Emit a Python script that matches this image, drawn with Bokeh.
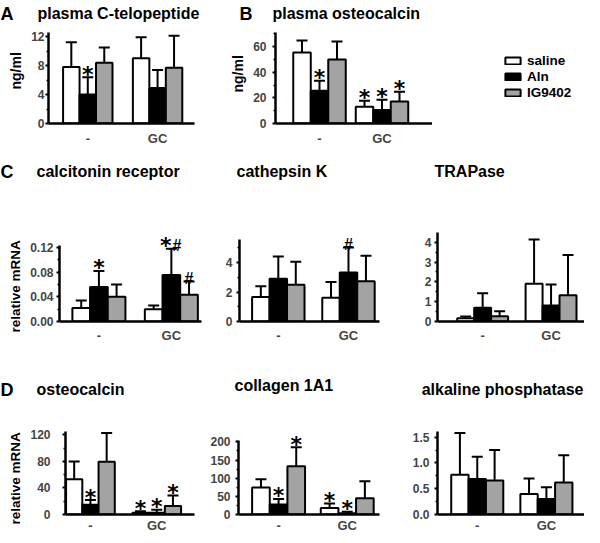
from bokeh.plotting import figure
from bokeh.layouts import column, row
from bokeh.models import (Range1d, FixedTicker, PrintfTickFormatter, Whisker, TeeHead,
                          ColumnDataSource, Label, Legend, LegendItem, Title)
from bokeh.embed import file_html
from bokeh.resources import INLINE

FONT = "Liberation Sans"

groups = ["-", "GC"]
series = ["saline", "Aln", "IG9402"]
fills = ["white", "black", "#a3a3a3"]

# A  plasma C-telopeptide (ng/ml)
ctx_saline = [7.8, 9.0]
ctx_aln = [4.0, 4.9]
ctx_ig = [8.4, 7.7]
ctx_saline_err = [11.2, 11.9]
ctx_aln_err = [6.4, 7.4]
ctx_ig_err = [10.5, 12.1]
ctx_marks = [("-", "Aln", "*")]
ctx_ticks = [0, 4, 8, 12]

# B  plasma osteocalcin (ng/ml)
poc_saline = [55.4, 13.1]
poc_aln = [25.6, 10.5]
poc_ig = [49.9, 17.2]
poc_saline_err = [64.8, 17.8]
poc_aln_err = [33.4, 18.6]
poc_ig_err = [64.0, 24.8]
poc_marks = [("-", "Aln", "*"), ("GC", "saline", "*"), ("GC", "Aln", "*"), ("GC", "IG9402", "*")]
poc_ticks = [0, 20, 40, 60]

# C  calcitonin receptor
ctr_saline = [0.022, 0.020]
ctr_aln = [0.056, 0.0755]
ctr_ig = [0.040, 0.0435]
ctr_saline_err = [0.034, 0.026]
ctr_aln_err = [0.082, 0.118]
ctr_ig_err = [0.060, 0.065]
ctr_marks = [("-", "Aln", "*"), ("GC", "Aln", "*"), ("GC", "Aln", "#"), ("GC", "IG9402", "#")]
ctr_ticks = [0, 0.04, 0.08, 0.12]

# C  cathepsin K
ctsk_saline = [1.67, 1.61]
ctsk_aln = [2.90, 3.33]
ctsk_ig = [2.50, 2.73]
ctsk_saline_err = [2.40, 2.69]
ctsk_aln_err = [4.41, 5.03]
ctsk_ig_err = [4.06, 4.47]
ctsk_marks = [("GC", "Aln", "#")]
ctsk_ticks = [0, 2, 4]

# C  TRAPase
trap_saline = [0.17, 1.90]
trap_aln = [0.69, 0.81]
trap_ig = [0.27, 1.33]
trap_saline_err = [0.25, 4.14]
trap_aln_err = [1.43, 1.87]
trap_ig_err = [0.52, 3.35]
trap_marks = []
trap_ticks = [0, 1, 2, 3, 4]

# D  osteocalcin
ocn_saline = [53.0, 2.5]
ocn_aln = [14.6, 2.5]
ocn_ig = [79.5, 13.0]
ocn_saline_err = [80.0, 5.0]
ocn_aln_err = [21.8, 7.3]
ocn_ig_err = [123.0, 28.7]
ocn_marks = [("-", "Aln", "*"), ("GC", "saline", "*"), ("GC", "Aln", "*"), ("GC", "IG9402", "*")]
ocn_ticks = [0, 40, 80, 120]

# D  collagen 1A1
col_saline = [74.2, 18.0]
col_aln = [27.4, 3.7]
col_ig = [133.0, 44.7]
col_saline_err = [97.0, 30.0]
col_aln_err = [43.0, 7.3]
col_ig_err = [185.0, 91.5]
col_marks = [("-", "Aln", "*"), ("-", "IG9402", "*"), ("GC", "saline", "*"), ("GC", "Aln", "*")]
col_ticks = [0, 50, 100, 150, 200]

# D  alkaline phosphatase
alp_saline = [0.77, 0.40]
alp_aln = [0.69, 0.30]
alp_ig = [0.66, 0.62]
alp_saline_err = [1.58, 0.70]
alp_aln_err = [1.12, 0.53]
alp_ig_err = [1.25, 1.15]
alp_marks = []
alp_ticks = [0, 0.5, 1.0, 1.5]

MARK_STYLE = {"*": dict(font="DejaVu Sans", size="22px", dy=3),
              "#": dict(font=FONT, size="16px", dy=3)}


def bar_panel(means, errs, marks, yticks, yfmt, y_top, x_start, x_end, bar_w,
              width, height, left, right, axis_top_px, bottom, headroom=0,
              ylabel=None, ylab_offset=0, ylab_size="14px",
              tick_standoff=3, cat_standoff=6):
    top_border = axis_top_px - headroom
    frame_h = height - top_border - bottom
    y_end = y_top * frame_h / (frame_h - headroom)
    p = figure(width=width, height=height, x_range=Range1d(x_start, x_end),
               y_range=Range1d(0, y_end), min_border_left=left, min_border_right=right,
               min_border_top=top_border, min_border_bottom=bottom, toolbar_location=None,
               output_backend="svg")
    p.outline_line_color = None
    p.xgrid.visible = False
    p.ygrid.visible = False
    for j, (m, e) in enumerate(zip(means, errs)):
        xs = [i + (j - 1) * bar_w for i in range(len(groups))]
        src = ColumnDataSource(dict(x=xs, top=m, err=e))
        p.add_layout(Whisker(base="x", lower="top", upper="err", source=src,
                             line_color="black", line_width=2, lower_head=None,
                             upper_head=TeeHead(size=11, line_width=2, line_color="black")))
        p.vbar(x="x", top="top", width=bar_w, source=src, fill_color=fills[j],
               line_color="black", line_width=2)
    counts = {}
    for g, s, sym in marks:
        counts[(g, s)] = counts.get((g, s), 0) + 1
    seen = {}
    for g, s, sym in marks:
        gi, si = groups.index(g), series.index(s)
        n = counts[(g, s)]
        k = seen.get((g, s), 0)
        seen[(g, s)] = k + 1
        st = MARK_STYLE[sym]
        p.add_layout(Label(x=gi + (si - 1) * bar_w, y=errs[si][gi], text=sym,
                           x_offset=(k - (n - 1) / 2) * 11, y_offset=st["dy"],
                           text_align="center", text_baseline="alphabetic",
                           text_font=st["font"], text_font_size=st["size"],
                           text_font_style="bold", text_color="black"))
    step = yticks[1] - yticks[0]
    minor = [t + step / 2 for t in yticks if t + step / 2 <= y_top]
    yax = p.yaxis[0]
    yax.ticker = FixedTicker(ticks=yticks, minor_ticks=minor)
    yax.formatter = PrintfTickFormatter(format=yfmt)
    yax.bounds = (0, y_top)
    yax.axis_line_width = 2.5
    yax.major_tick_line_width = 2
    yax.major_tick_out = 3
    yax.major_tick_in = 0
    yax.minor_tick_out = 2
    yax.minor_tick_in = 0
    yax.minor_tick_line_width = 1.5
    yax.major_label_text_font = FONT
    yax.major_label_text_font_size = "12px"
    yax.major_label_text_font_style = "bold"
    yax.major_label_standoff = tick_standoff
    if ylabel:
        p.add_layout(Title(text=ylabel, align="left", offset=ylab_offset,
                           text_font=FONT, text_font_size=ylab_size,
                           text_font_style="bold", text_color="black"), "left")
    xax = p.xaxis[0]
    xax.ticker = FixedTicker(ticks=list(range(len(groups))))
    xax.major_label_overrides = {i: g for i, g in enumerate(groups)}
    xax.axis_line_width = 2.5
    xax.major_tick_out = 0
    xax.major_tick_in = 0
    xax.minor_tick_out = 0
    xax.minor_tick_in = 0
    xax.major_label_text_font = FONT
    xax.major_label_text_font_size = "13px"
    xax.major_label_text_font_style = "bold"
    xax.major_label_standoff = cat_standoff
    return p


def strip(h, items):
    p = figure(width=584, height=h, x_range=Range1d(0, 584), y_range=Range1d(0, h),
               x_axis_type=None, y_axis_type=None, min_border=0,
               toolbar_location=None, output_backend="svg")
    p.outline_line_color = None
    for text, x, y, size, align in items:
        p.add_layout(Label(x=x, y=y, text=text, text_font=FONT, text_font_size=size,
                           text_font_style="bold", text_baseline="middle",
                           text_align=align, text_color="black"))
    return p


def legend_box(width, height, means):
    p = figure(width=width, height=height, x_range=Range1d(0, 1), y_range=Range1d(0, 1),
               x_axis_type=None, y_axis_type=None, min_border=0, min_border_left=51,
               toolbar_location=None, output_backend="svg")
    p.outline_line_color = None
    items = []
    for j, (name, c) in enumerate(zip(series, fills)):
        src = ColumnDataSource(dict(x=list(range(len(groups))), top=means[j]))
        r = p.vbar(x="x", top="top", width=0.2, source=src, fill_color=c,
                   line_color="black", line_width=2, visible=False)
        items.append(LegendItem(label=name, renderers=[r]))
    lg = Legend(items=items, location="top_left", padding=0, margin=20, spacing=0,
                glyph_width=19, glyph_height=9, label_height=16, label_standoff=5,
                label_text_font=FONT, label_text_font_size="13.5px",
                label_text_font_style="bold", label_text_color="black",
                border_line_alpha=0, background_fill_alpha=0, inactive_fill_alpha=0)
    p.add_layout(lg)
    return p


t1 = strip(26, [("A", 0, 13, "18px", "left"),
                ("plasma C-telopeptide", 37, 13, "16px", "left"),
                ("B", 239, 13, "18px", "left"),
                ("plasma osteocalcin", 272, 13, "16px", "left")])

pA = bar_panel([ctx_saline, ctx_aln, ctx_ig], [ctx_saline_err, ctx_aln_err, ctx_ig_err],
               ctx_marks, ctx_ticks, "%d", 12.56, -0.563, 1.529, 0.236,
               214, 124, 39, 20, 5, 27, ylabel="ng/ml", ylab_offset=34,
               tick_standoff=1, cat_standoff=7)
pB = bar_panel([poc_saline, poc_aln, poc_ig], [poc_saline_err, poc_aln_err, poc_ig_err],
               poc_marks, poc_ticks, "%d", 71.0, -0.704, 1.808, 0.28,
               218, 124, 61, 0, 6, 27, ylabel="ng/ml", ylab_offset=31,
               tick_standoff=6, cat_standoff=7)
pL = legend_box(152, 124, [poc_saline, poc_aln, poc_ig])

t2 = strip(35, [("C", 0, 14, "18px", "left"),
                ("calcitonin receptor", 36, 14, "16px", "left"),
                ("cathepsin K", 236, 14, "16px", "left"),
                ("TRAPase", 434, 14, "16px", "left")])

pC1 = bar_panel([ctr_saline, ctr_aln, ctr_ig], [ctr_saline_err, ctr_aln_err, ctr_ig_err],
                ctr_marks, ctr_ticks, "%.2f", 0.1236, -0.544, 1.416, 0.244,
                222, 160, 55, 21, 47, 23, headroom=15, ylabel="relative mRNA",
                ylab_offset=-11, ylab_size="13.5px", tick_standoff=3, cat_standoff=6)
pC2 = bar_panel([ctsk_saline, ctsk_aln, ctsk_ig], [ctsk_saline_err, ctsk_aln_err, ctsk_ig_err],
                ctsk_marks, ctsk_ticks, "%d", 5.55, -0.553, 1.442, 0.249,
                190, 160, 17, 33, 48, 23, headroom=8, tick_standoff=4, cat_standoff=6)
pC3 = bar_panel([trap_saline, trap_aln, trap_ig], [trap_saline_err, trap_aln_err, trap_ig_err],
                trap_marks, trap_ticks, "%d", 4.49, -0.66, 1.489, 0.248,
                172, 160, 25, 0, 47, 24, tick_standoff=3, cat_standoff=6)

t3 = strip(60, [("D", 0, 16, "18px", "left"),
                ("osteocalcin", 36, 16, "16px", "left"),
                ("collagen 1A1", 234, 20, "16px", "left"),
                ("alkaline phosphatase", 583, 16, "16px", "right")])

pD1 = bar_panel([ocn_saline, ocn_aln, ocn_ig], [ocn_saline_err, ocn_aln_err, ocn_ig_err],
                ocn_marks, ocn_ticks, "%d", 125.2, -0.376, 1.57, 0.245,
                204, 130, 53, 10, 25, 19, ylabel="relative mRNA", ylab_offset=-10,
                ylab_size="13.5px", tick_standoff=12, cat_standoff=3)
pD2 = bar_panel([col_saline, col_aln, col_ig], [col_saline_err, col_aln_err, col_ig_err],
                col_marks, col_ticks, "%d", 202.8, -0.584, 1.47, 0.257,
                203, 130, 34, 28, 17, 19, headroom=12, tick_standoff=5, cat_standoff=3)
pD3 = bar_panel([alp_saline, alp_aln, alp_ig], [alp_saline_err, alp_aln_err, alp_ig_err],
                alp_marks, alp_ticks, "%.1f", 1.61, -0.575, 1.551, 0.251,
                177, 130, 30, 0, 26, 20, tick_standoff=5, cat_standoff=3)

layout = column(t1, row(pA, pB, pL), t2, row(pC1, pC2, pC3), t3, row(pD1, pD2, pD3))

with open("out.html", "w") as f:
    f.write(file_html(layout, INLINE))
